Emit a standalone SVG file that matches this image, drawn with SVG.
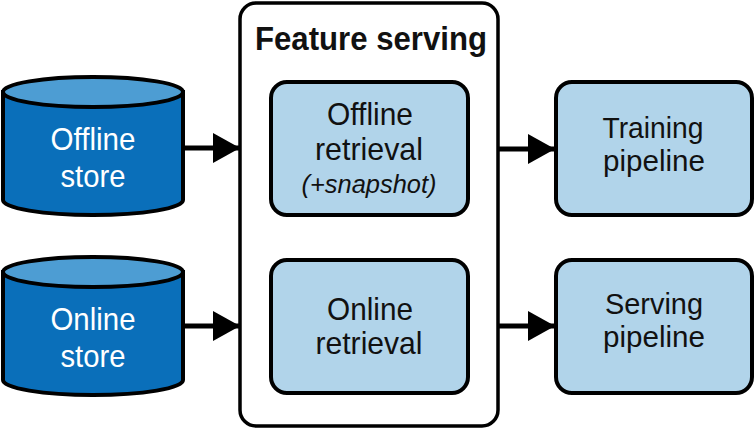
<svg xmlns="http://www.w3.org/2000/svg" width="754" height="429" viewBox="0 0 754 429">
<defs>
<marker id="ah" markerWidth="27" markerHeight="30" refX="27" refY="15" orient="auto" markerUnits="userSpaceOnUse">
<polygon points="0,0 27,15 0,30" fill="#000"/>
</marker>
<style>
.cylb{fill:#0a6fba;stroke:#000;stroke-width:4}
.cylt{fill:#4d9dd3;stroke:#000;stroke-width:4}
.box{fill:#b1d4ea;stroke:#000;stroke-width:4}
.frame{fill:#fff;stroke:#000;stroke-width:3.5}
.t{font-family:"Liberation Sans",Arial,sans-serif;font-size:32px;text-anchor:middle;fill:#111}
.tp{font-family:"Liberation Sans",Arial,sans-serif;font-size:29px;text-anchor:middle;fill:#111}
.w{fill:#fff}
.it{font-family:"Liberation Sans",Arial,sans-serif;font-size:25px;font-style:italic;text-anchor:middle;fill:#111}
.title{font-family:"Liberation Sans",Arial,sans-serif;font-size:34px;font-weight:bold;text-anchor:middle;fill:#111}
.c{stroke:#000;stroke-width:5;fill:none}
</style>
</defs>
<g id="feature-serving">
<rect class="frame" x="240" y="3" width="258" height="423" rx="16"/>
<text class="title" x="371" y="50" textLength="232" lengthAdjust="spacingAndGlyphs">Feature serving</text>
</g>
<g id="offline-store">
<path class="cylb" d="M3,92 L3,200 A90,15 0 0 0 183,200 L183,92 Z"/>
<ellipse class="cylt" cx="93" cy="92" rx="90" ry="15"/>
<text class="t w" x="93" y="150" textLength="85" lengthAdjust="spacingAndGlyphs">Offline</text>
<text class="t w" x="93" y="187" textLength="65" lengthAdjust="spacingAndGlyphs">store</text>
</g>
<g id="online-store">
<path class="cylb" d="M3,272 L3,380 A90,15 0 0 0 183,380 L183,272 Z"/>
<ellipse class="cylt" cx="93" cy="272" rx="90" ry="15"/>
<text class="t w" x="93" y="330" textLength="85" lengthAdjust="spacingAndGlyphs">Online</text>
<text class="t w" x="93" y="367" textLength="65" lengthAdjust="spacingAndGlyphs">store</text>
</g>
<g id="offline-retrieval">
<rect class="box" x="271" y="82" width="197" height="133" rx="16"/>
<text class="t" x="370" y="125" textLength="86" lengthAdjust="spacingAndGlyphs">Offline</text>
<text class="t" x="369" y="160" textLength="108" lengthAdjust="spacingAndGlyphs">retrieval</text>
<text class="it" x="369" y="193" textLength="135" lengthAdjust="spacingAndGlyphs">(+snapshot)</text>
</g>
<g id="online-retrieval">
<rect class="box" x="271" y="260" width="197" height="133" rx="16"/>
<text class="t" x="370" y="320" textLength="86" lengthAdjust="spacingAndGlyphs">Online</text>
<text class="t" x="369" y="354" textLength="107" lengthAdjust="spacingAndGlyphs">retrieval</text>
</g>
<g id="training-pipeline">
<rect class="box" x="556" y="82" width="196" height="133" rx="16"/>
<text class="tp" x="653" y="138" textLength="101" lengthAdjust="spacingAndGlyphs">Training</text>
<text class="tp" x="654" y="171" textLength="102" lengthAdjust="spacingAndGlyphs">pipeline</text>
</g>
<g id="serving-pipeline">
<rect class="box" x="556" y="260" width="196" height="133" rx="16"/>
<text class="tp" x="654" y="314" textLength="98" lengthAdjust="spacingAndGlyphs">Serving</text>
<text class="tp" x="654" y="347" textLength="102" lengthAdjust="spacingAndGlyphs">pipeline</text>
</g>
<g id="connectors">
<line class="c" x1="183" y1="148" x2="240" y2="148" marker-end="url(#ah)"/>
<line class="c" x1="183" y1="326" x2="240" y2="326" marker-end="url(#ah)"/>
<line class="c" x1="498" y1="149" x2="555" y2="149" marker-end="url(#ah)"/>
<line class="c" x1="498" y1="326" x2="555" y2="326" marker-end="url(#ah)"/>
</g>
</svg>
